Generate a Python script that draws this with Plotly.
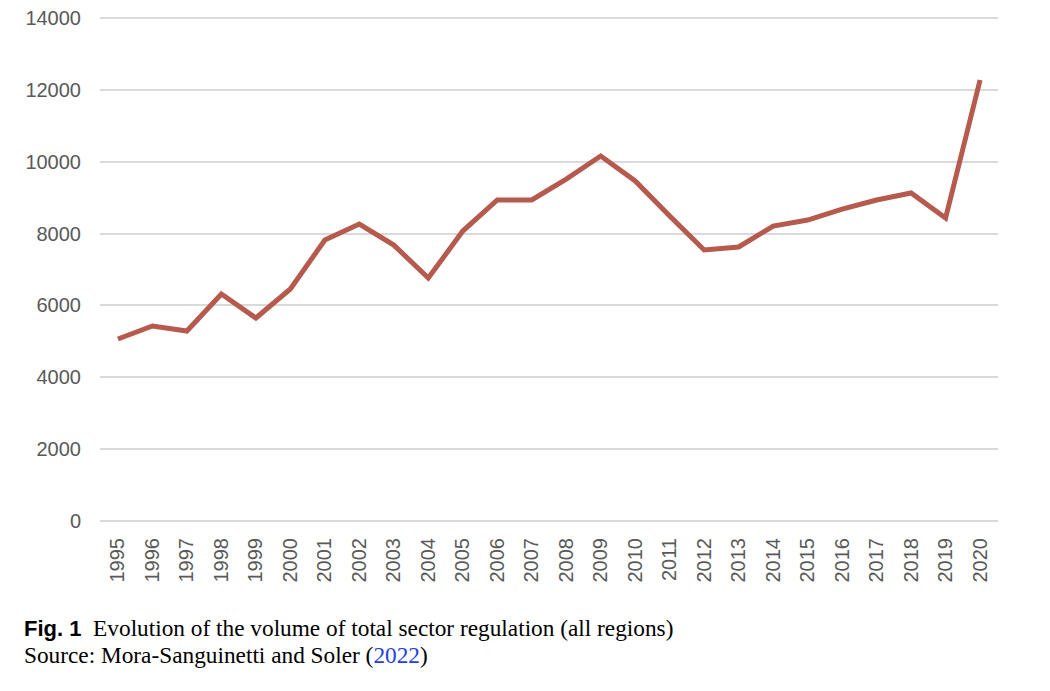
import plotly.graph_objects as go

years = list(range(1995, 2021))
volume = [5065, 5427, 5288, 6318, 5650, 6457, 7820, 8266, 7680, 6763,
          8070, 8934, 8934, 9518, 10158, 9463, 8489, 7542, 7626, 8210,
          8377, 8683, 8934, 9129, 8433, 12274]
y_ticks = [0, 2000, 4000, 6000, 8000, 10000, 12000, 14000]
y_tick_labels = [str(v) for v in y_ticks]

W, H = 1050, 691
OFF = 8  # page body margin
L, T = 100 - OFF, 14 - OFF
pw = 898
R = W - L - pw
B = H - (525 - OFF)
ph = H - T - B
# desired screen positions: 0 -> 521, 14000 -> 18
upp = 14000 / (521 - 18)
y_top = 14000 + (18 - (T + OFF)) * upp
y_bot = -(525 - 521) * upp

fig = go.Figure()
fig.add_trace(go.Scatter(
    x=years, y=volume, mode="lines",
    line=dict(color="#B55A4C", width=5),
    hoverinfo="x+y", showlegend=False,
))

fig.update_layout(
    width=W, height=H,
    margin=dict(l=L, r=R, t=T, b=B, autoexpand=False),
    paper_bgcolor="white", plot_bgcolor="white",
    font=dict(family="Liberation Sans, Arial, sans-serif", color="#595959", size=20),
    xaxis=dict(
        range=[1994.48, 2020.52], tickmode="array", tickvals=years,
        ticktext=[str(y) for y in years], tickangle=-90,
        showgrid=False, zeroline=False, showline=False, ticks="",
        ticklabelstandoff=8, automargin=False, ticklabeloverflow="allow",
        tickfont=dict(size=20, color="#595959"),
    ),
    yaxis=dict(
        range=[y_bot, y_top], tickmode="array", tickvals=y_ticks,
        ticktext=y_tick_labels,
        showgrid=True, gridcolor="#D9D9D9", gridwidth=1.5,
        zeroline=False, showline=False, ticks="",
        ticklabelstandoff=18, automargin=False, ticklabeloverflow="allow",
        tickfont=dict(size=20, color="#595959"),
    ),
)

def py(pix):
    return (H - B - (pix - OFF)) / ph

def px(pix):
    return (pix - OFF - L) / pw

fig.add_annotation(
    xref="paper", yref="paper", x=px(23), y=py(628), xanchor="left", yanchor="middle",
    showarrow=False, align="left", borderpad=0,
    text='<span style="font-family:Liberation Sans Narrow, Liberation Sans, Arial, sans-serif;font-size:22px">'
         '<b>Fig. 1</b></span>'
         '  Evolution of the volume of total sector regulation (all regions)',
    font=dict(family="Liberation Serif, Times New Roman, serif", size=23.3, color="black"),
)
fig.add_annotation(
    xref="paper", yref="paper", x=px(23), y=py(655), xanchor="left", yanchor="middle",
    showarrow=False, align="left", borderpad=0,
    text='Source: Mora-Sanguinetti and Soler (<span style="color:#1F3FE0">2022</span>)',
    font=dict(family="Liberation Serif, Times New Roman, serif", size=23.3, color="black"),
)

fig.write_html("out.html")
